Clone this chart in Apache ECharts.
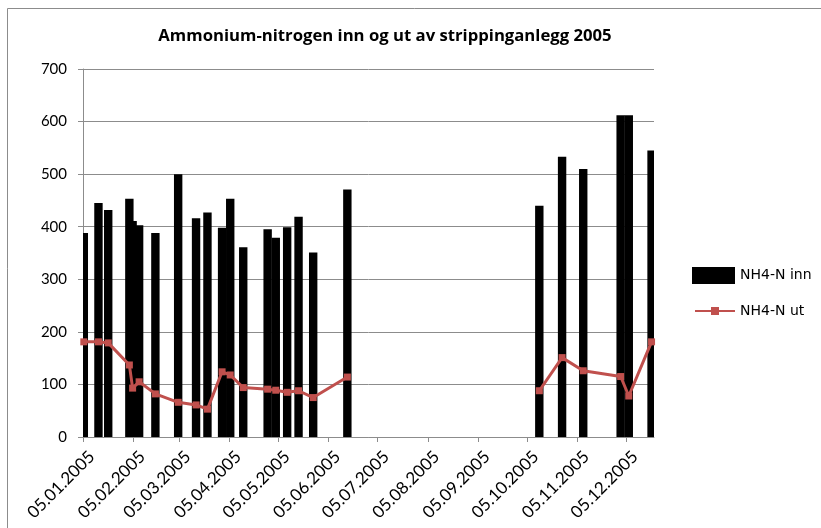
<!DOCTYPE html>
<html>
<head>
<meta charset="utf-8">
<script src="https://cdn.jsdelivr.net/npm/echarts@6/dist/echarts.min.js"></script>
<style>
html,body{margin:0;padding:0;background:#fff;}
#chart{width:821px;height:528px;}
</style>
</head>
<body>
<div id="chart"></div>
<script>
// ---- data ----
const titleText = 'Ammonium-nitrogen inn og ut av strippinganlegg 2005';
const seriesNames = ['NH4-N inn', 'NH4-N ut'];
const sampleDates = [
  '2005-01-05','2005-01-14','2005-01-20','2005-02-02','2005-02-04','2005-02-08',
  '2005-02-18','2005-03-04','2005-03-15','2005-03-22','2005-03-31','2005-04-05',
  '2005-04-13','2005-04-28','2005-05-03','2005-05-10','2005-05-17','2005-05-26',
  '2005-06-16','2005-08-15','2005-10-12','2005-10-26','2005-11-08','2005-12-01',
  '2005-12-06','2005-12-20'
];
const nh4Inn = [
  388, 445, 432, 453, 411, 403,
  388, 500, 416, 427, 398, 453,
  361, 395, 379, 399, 419, 351,
  471, null, 440, 533, 510, 612,
  612, 545
];
const nh4Ut = [
  181, 181, 179, 137, 93, 105,
  82, 66, 61, 53, 124, 118,
  94, 91, 89, 85, 88, 75,
  114, null, 88, 151, 126, 115,
  78, 181
];
const tickDates = [
  '2005-01-05','2005-02-05','2005-03-05','2005-04-05','2005-05-05','2005-06-05',
  '2005-07-05','2005-08-05','2005-09-05','2005-10-05','2005-11-05','2005-12-05'
];
const axisStart = '2005-01-05';
const axisEnd = '2005-12-22';
const yMin = 0, yMax = 700, yStep = 100;

// ---- helpers ----
const DAY = 86400000;
function ts(s) { const p = s.split('-').map(Number); return Date.UTC(p[0], p[1] - 1, p[2]); }
function mid(s) { return ts(s) + DAY / 2; } // Excel date axis centres a point in its day
function fmt(v) {
  const d = new Date(v);
  const dd = String(d.getUTCDate()).padStart(2, '0');
  const mm = String(d.getUTCMonth() + 1).padStart(2, '0');
  return dd + '.' + mm + '.' + d.getUTCFullYear();
}

const barData = sampleDates.map((d, i) => [mid(d), nh4Inn[i]]).reverse();
const lineData = sampleDates.map((d, i) => [mid(d), nh4Ut[i]]);
const tickValues = tickDates.map(ts);
const BAR_W = 8.4;

function renderBar(params, api) {
  const v = api.value(1);
  if (v == null || isNaN(v)) return null;
  const x = api.value(0);
  const top = api.coord([x, v]);
  const base = api.coord([x, 0]);
  const cs = params.coordSys;
  const shape = echarts.graphic.clipRectByRect(
    { x: top[0] - BAR_W / 2, y: top[1], width: BAR_W, height: base[1] - top[1] },
    { x: cs.x, y: cs.y, width: cs.width, height: cs.height }
  );
  if (!shape) return null;
  return { type: 'rect', shape: shape, style: { fill: '#000' } };
}

const chart = echarts.init(document.getElementById('chart'), null, { renderer: 'canvas' });
const gridColor = '#8c8c8c';
chart.setOption({
  animation: false,
  backgroundColor: '#fff',
  title: {
    text: titleText,
    left: 385,
    textAlign: 'center',
    top: 28,
    padding: 0,
    textStyle: { fontFamily: 'Open Sans', fontWeight: 'bold', fontSize: 16.7, color: '#000' }
  },
  graphic: [{
    type: 'rect',
    shape: { x: 7.5, y: 8.5, width: 900, height: 600 },
    style: { fill: 'none', stroke: gridColor, lineWidth: 1 },
    silent: true, z: -10
  }],
  legend: [{
    data: [{ name: seriesNames[0], icon: 'rect' }],
    left: 692, top: 267, padding: 0,
    itemWidth: 43, itemHeight: 17,
    textStyle: { fontFamily: 'DejaVu Sans', fontSize: 14, color: '#000' }
  }, {
    data: [seriesNames[1]],
    left: 694, top: 304, padding: 0,
    itemWidth: 40, itemHeight: 10,
    textStyle: { fontFamily: 'DejaVu Sans', fontSize: 14, color: '#000' }
  }],
  grid: { left: 83, right: 167, top: 69, bottom: 91, containLabel: false },
  xAxis: {
    type: 'value',
    min: ts(axisStart),
    max: ts(axisEnd),
    splitLine: { show: false },
    axisLine: { lineStyle: { color: gridColor, width: 1 } },
    axisTick: { show: true, length: 5, lineStyle: { color: gridColor }, customValues: tickValues },
    axisLabel: {
      customValues: tickValues,
      formatter: fmt,
      rotate: 45,
      margin: 8,
      align: 'right',
      verticalAlign: 'top',
      padding: [4, 0, 0, 0],
      fontFamily: 'Lato', fontSize: 17, color: '#000',
      hideOverlap: false
    }
  },
  yAxis: {
    type: 'value',
    min: yMin, max: yMax, interval: yStep,
    axisLine: { show: true, lineStyle: { color: gridColor, width: 1 } },
    axisTick: { show: true, length: 5, lineStyle: { color: gridColor } },
    splitLine: { show: true, lineStyle: { color: gridColor, width: 1 } },
    axisLabel: { margin: 16, fontFamily: 'Lato', fontSize: 15, color: '#000' }
  },
  series: [{
    name: seriesNames[0],
    type: 'custom',
    renderItem: renderBar,
    data: barData,
    encode: { x: 0, y: 1 },
    itemStyle: { color: '#000' },
    z: 2
  }, {
    name: seriesNames[1],
    type: 'line',
    data: lineData,
    connectNulls: false,
    symbol: 'rect',
    symbolSize: 7,
    showAllSymbol: true,
    itemStyle: { color: '#C0504D' },
    lineStyle: { color: '#C0504D', width: 3 },
    z: 3
  }]
});
</script>
</body>
</html>
